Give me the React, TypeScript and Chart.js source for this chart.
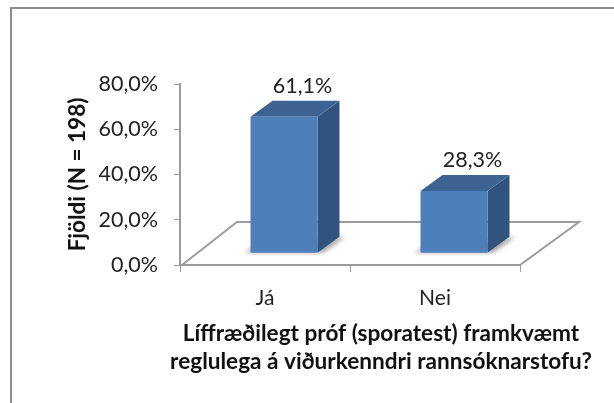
import React, { useEffect, useRef } from "react";
import { Chart, registerables } from "chart.js";

Chart.register(...registerables);

const categories = ["Já", "Nei"];
const values = [61.1, 28.3];
const yMax = 80;
const yStep = 20;
const yTitle = "Fjöldi (N = 198)";
const xTitle = ["Líffræðilegt próf (sporatest) framkvæmt", "reglulega á viðurkenndri rannsóknarstofu?"];

const FONT = "Lato, 'Open Sans', sans-serif";
const TEXT = "#222222";
const AXIS = "#9c9c9c";
const FRONT = "#4f7fbb";
const TOP = "#3c6391";
const SIDE = "#31547f";
const SHIFT_X = 19;
const SHIFT_Y = -10;
const DEPTH_X = 22;
const DEPTH_Y = 16;

const fmt = (v: number) => v.toFixed(1).replace(".", ",") + "%";

const frame3d = {
  id: "frame3d",
  beforeDraw(chart: any) {
    const { ctx } = chart;
    ctx.save();
    ctx.strokeStyle = "#8e8e8e";
    ctx.lineWidth = 2;
    ctx.beginPath();
    ctx.moveTo(11, chart.height);
    ctx.lineTo(11, 8);
    ctx.lineTo(chart.width, 8);
    ctx.stroke();
    ctx.restore();
    const sx = chart.scales.x;
    if (!sx.__moved) {
      sx.__moved = true;
      const orig = sx.drawTitle;
      sx.drawTitle = function () {
        const { left, right } = this;
        const c = (left + right) / 2 + 31;
        this.left = c - 230;
        this.right = c + 230;
        orig.call(this);
        this.left = left;
        this.right = right;
      };
    }
  },
  beforeDatasetsDraw(chart: any) {
    const { ctx, chartArea: a } = chart;
    ctx.save();
    ctx.strokeStyle = AXIS;
    ctx.lineWidth = 2;
    ctx.beginPath();
    ctx.moveTo(a.left + 2, a.bottom);
    ctx.lineTo(a.left + 57, a.bottom - 43);
    ctx.lineTo(a.right + 59, a.bottom - 43);
    ctx.lineTo(a.right, a.bottom);
    ctx.stroke();
    ctx.restore();
  },
  beforeDatasetDraw(chart: any, args: any) {
    const { ctx } = chart;
    ctx.save();
    ctx.translate(SHIFT_X, SHIFT_Y);
    chart.getDatasetMeta(args.index).data.forEach((el: any) => {
      const p = el.getProps(["x", "y", "base", "width"], true);
      const l = p.x - p.width / 2;
      const r = p.x + p.width / 2;
      ctx.save();
      ctx.filter = "blur(2px)";
      ctx.fillStyle = "rgba(110,110,110,0.6)";
      ctx.beginPath();
      ctx.moveTo(l - 6, p.base);
      ctx.lineTo(l + 2, p.base - 5);
      ctx.lineTo(r + DEPTH_X + 6, p.base - DEPTH_Y);
      ctx.lineTo(r + 6, p.base);
      ctx.closePath();
      ctx.fill();
      ctx.restore();
      ctx.fillStyle = SIDE;
      ctx.beginPath();
      ctx.moveTo(r, p.y);
      ctx.lineTo(r + DEPTH_X, p.y - DEPTH_Y);
      ctx.lineTo(r + DEPTH_X, p.base - DEPTH_Y);
      ctx.lineTo(r, p.base);
      ctx.closePath();
      ctx.fill();
      ctx.fillStyle = TOP;
      ctx.beginPath();
      ctx.moveTo(l, p.y);
      ctx.lineTo(l + DEPTH_X, p.y - DEPTH_Y);
      ctx.lineTo(r + DEPTH_X, p.y - DEPTH_Y);
      ctx.lineTo(r, p.y);
      ctx.closePath();
      ctx.fill();
    });
  },
  afterDatasetDraw(chart: any) {
    chart.ctx.restore();
  },
  afterDatasetsDraw(chart: any) {
    const { ctx } = chart;
    ctx.save();
    ctx.font = `21.5px ${FONT}`;
    ctx.fillStyle = TEXT;
    ctx.textAlign = "center";
    ctx.textBaseline = "middle";
    chart.getDatasetMeta(0).data.forEach((el: any, i: number) => {
      const p = el.getProps(["x", "y"], true);
      ctx.fillText(fmt(values[i]), p.x + SHIFT_X + 18.5, p.y + SHIFT_Y - 31);
    });
    ctx.restore();
  },
};

export default function App() {
  const ref = useRef<HTMLCanvasElement>(null);
  useEffect(() => {
    const chart = new Chart(ref.current!, {
      type: "bar",
      data: {
        labels: categories,
        datasets: [
          {
            data: values,
            base: 1,
            backgroundColor: FRONT,
            borderRadius: 1,
            borderSkipped: false,
            barPercentage: 0.394,
            categoryPercentage: 1,
          } as any,
        ],
      },
      plugins: [frame3d],
      options: {
        animation: false,
        responsive: false,
        layout: { padding: { left: 64, top: 84, right: 94, bottom: 0 } },
        plugins: { legend: { display: false }, tooltip: { enabled: false } },
        scales: {
          y: {
            min: 0,
            max: yMax,
            afterFit: (s: any) => {
              s.width = 116;
            },
            ticks: {
              stepSize: yStep,
              callback: (v: any) => fmt(Number(v)),
              color: TEXT,
              font: { family: FONT, size: 21.5 },
              padding: 16,
            },
            grid: { drawOnChartArea: false, drawTicks: true, color: AXIS, tickLength: 6 },
            border: { color: AXIS, width: 2 },
            title: {
              display: true,
              text: yTitle,
              color: "#111111",
              font: { family: FONT, size: 22.5, weight: "bold" },
              padding: 0,
            },
          },
          x: {
            afterFit: (s: any) => {
              s.height = 138;
            },
            ticks: {
              color: TEXT,
              font: { family: FONT, size: 21 },
              padding: 14,
            },
            grid: { drawOnChartArea: false, drawTicks: true, color: AXIS, tickLength: 7, offset: true },
            border: { color: AXIS, width: 2 },
            title: {
              display: true,
              text: xTitle,
              color: "#111111",
              font: { family: FONT, size: 22.6, weight: "bold", lineHeight: 1.24 },
              padding: { top: 0, bottom: 27 },
            },
          },
        },
      },
    } as any);
    return () => chart.destroy();
  }, []);
  return (
    <div style={{ position: "absolute", left: 0, top: 0, width: 614, height: 403, background: "#fff" }}>
      <canvas ref={ref} width={614} height={403} style={{ display: "block" }} />
    </div>
  );
}
